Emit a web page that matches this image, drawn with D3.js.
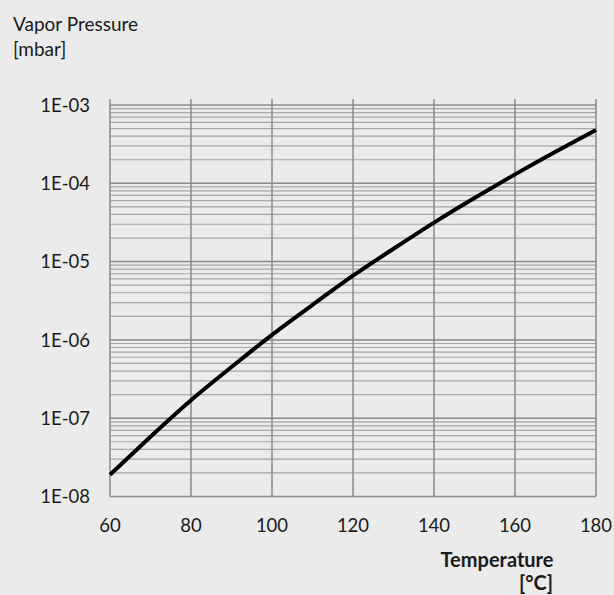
<!DOCTYPE html>
<html><head><meta charset="utf-8">
<script src="https://cdn.jsdelivr.net/npm/d3@7"></script>
<style>
html,body{margin:0;padding:0;background:#ebebeb;}
text{font-family:Lato,"Open Sans",sans-serif;fill:#1a1a1a;}
</style></head>
<body>
<svg id="chart" width="614" height="595"></svg>
<script>
const temperatures = [60, 70, 80, 90, 100, 110, 120, 130, 140, 150, 160, 170, 180];
const pressures = [1.9e-8, 5.8e-8, 1.7e-7, 4.5e-7, 1.16e-6, 2.8e-6, 6.6e-6, 1.46e-5, 3.15e-5, 6.5e-5, 1.3e-4, 2.53e-4, 4.8e-4];
const xTicks = [60, 80, 100, 120, 140, 160, 180];
const yTicks = [1e-8, 1e-7, 1e-6, 1e-5, 1e-4, 1e-3];
const yTickLabels = ["1E-08", "1E-07", "1E-06", "1E-05", "1E-04", "1E-03"];
const yTitle = ["Vapor Pressure", "[mbar]"];
const xTitle = ["Temperature", "[°C]"];

const svg = d3.select("#chart");
const m = {left:110, right:596, top:105, bottom:496.5};
const x = d3.scaleLinear().domain([60,180]).range([m.left, m.right]);
const y = d3.scaleLog().domain([1e-8,1e-3]).range([m.bottom, m.top]);

// minor grid
const minor = [];
for (let e=-8; e<-3; e++) for (let k=2; k<=9; k++) minor.push(k*Math.pow(10,e));
svg.append("g").selectAll("line").data(minor).join("line")
  .attr("x1", m.left).attr("x2", m.right)
  .attr("y1", d=>y(d)).attr("y2", d=>y(d))
  .attr("stroke", "#a6a6a6").attr("stroke-width", 1.2);

// major horizontal grid
svg.append("g").selectAll("line").data(yTicks).join("line")
  .attr("x1", m.left).attr("x2", m.right)
  .attr("y1", d=>y(d)).attr("y2", d=>y(d))
  .attr("stroke", "#8a8a8a").attr("stroke-width", 1.5);

// vertical grid
svg.append("g").selectAll("line").data(xTicks).join("line")
  .attr("x1", d=>x(d)).attr("x2", d=>x(d))
  .attr("y1", m.top-6).attr("y2", m.bottom)
  .attr("stroke", "#8a8a8a").attr("stroke-width", 1.5);

// y tick labels
svg.append("g").selectAll("text").data(yTicks).join("text")
  .attr("x", 90).attr("y", d=>y(d)).attr("dy", "0.36em")
  .attr("text-anchor", "end").attr("font-size", 18.5)
  .text((d,i)=>yTickLabels[i]);

// x tick labels
svg.append("g").selectAll("text").data(xTicks).join("text")
  .attr("x", d=>x(d)).attr("y", 532)
  .attr("text-anchor", "middle").attr("font-size", 18.5)
  .text(d=>d);

// curve
const line = d3.line().x((d,i)=>x(temperatures[i])).y(d=>y(d)).curve(d3.curveNatural);
svg.append("path").datum(pressures)
  .attr("d", line).attr("fill", "none")
  .attr("stroke", "#000").attr("stroke-width", 4);

// titles
svg.append("text").attr("x", 13).attr("y", 31).attr("font-size", 19).text(yTitle[0]);
svg.append("text").attr("x", 13).attr("y", 56).attr("font-size", 19).text(yTitle[1]);
svg.append("text").attr("x", 497).attr("y", 567).attr("text-anchor","middle")
  .attr("font-size", 20).attr("font-weight","bold").text(xTitle[0]);
svg.append("text").attr("x", 553).attr("y", 590).attr("text-anchor","end")
  .attr("font-size", 20).attr("font-weight","bold").text(xTitle[1]);
</script>
</body></html>
